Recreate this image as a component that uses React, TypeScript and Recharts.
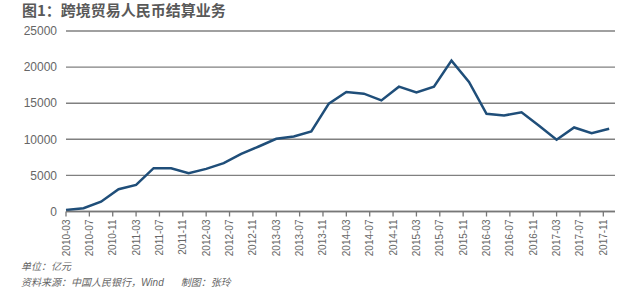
import { LineChart, Line, XAxis, YAxis, CartesianGrid } from 'recharts';

// quarterly data, 亿元
const periods = [
  '2010-03', '2010-06', '2010-09', '2010-12',
  '2011-03', '2011-06', '2011-09', '2011-12',
  '2012-03', '2012-06', '2012-09', '2012-12',
  '2013-03', '2013-06', '2013-09', '2013-12',
  '2014-03', '2014-06', '2014-09', '2014-12',
  '2015-03', '2015-06', '2015-09', '2015-12',
  '2016-03', '2016-06', '2016-09', '2016-12',
  '2017-03', '2017-06', '2017-09', '2017-12',
];
const settlement = [
  200, 450, 1360, 3080,
  3680, 6000, 6000, 5300,
  5900, 6690, 7990, 9000,
  10070, 10400, 11080, 14930,
  16550, 16320, 15390, 17290,
  16500, 17290, 20900, 17940,
  13540, 13310, 13730, 11880,
  9930, 11640, 10860, 11460,
];
const xTickLabels = [
  '2010-03', '2010-07', '2010-11', '2011-03', '2011-07', '2011-11',
  '2012-03', '2012-07', '2012-11', '2013-03', '2013-07', '2013-11',
  '2014-03', '2014-07', '2014-11', '2015-03', '2015-07', '2015-11',
  '2016-03', '2016-07', '2016-11', '2017-03', '2017-07', '2017-11',
];
const yTicks = [0, 5000, 10000, 15000, 20000, 25000];

// months since 2010-03
const monthIndex = (s: string) => {
  const [y, m] = s.split('-').map(Number);
  return (y - 2010) * 12 + (m - 3);
};

const data = periods.map((p, i) => ({ t: monthIndex(p), value: settlement[i] }));
const xTicks = xTickLabels.map(monthIndex);
const labelOf = new Map(xTickLabels.map((l) => [monthIndex(l), l]));

const font = '"Liberation Sans", Arial, sans-serif';
const cjk = '"Noto Sans CJK SC", sans-serif';

const XTick = (props: any) => {
  const { x, y, payload } = props;
  return (
    <text
      transform={`translate(${x + 3.5},${y}) rotate(-90)`}
      textAnchor="end"
      fontSize={10}
      fontFamily={font}
      fill="#666"
    >
      {labelOf.get(payload.value)}
    </text>
  );
};

export default function App() {
  return (
    <div style={{ position: 'absolute', left: 0, top: 0, width: 640, height: 288, background: '#fff' }}>
      <div
        style={{
          position: 'absolute', left: 22, top: 0, fontSize: 15, fontWeight: 'bold',
          fontFamily: cjk, color: '#595959', lineHeight: '20px',
        }}
      >
        图1：跨境贸易人民币结算业务
      </div>
      <LineChart width={640} height={288} data={data} margin={{ top: 31, right: 25, bottom: 0, left: 0 }}>
        <CartesianGrid vertical={false} stroke="#808080" strokeWidth={1.4} />
        <XAxis
          dataKey="t"
          type="number"
          domain={[0, 94]}
          ticks={xTicks}
          interval={0}
          height={76.5}
          tick={<XTick />}
          tickSize={5}
          tickMargin={3}
          stroke="#777"
          strokeWidth={1.3}
        />
        <YAxis
          domain={[0, 25000]}
          ticks={yTicks}
          width={66}
          axisLine={false}
          tickLine={false}
          tickSize={0}
          tickMargin={9}
          tick={{ fontSize: 12, fill: '#666', fontFamily: font }}
        />
        <Line
          type="linear"
          dataKey="value"
          stroke="#1f4e79"
          strokeWidth={2.5}
          dot={false}
          isAnimationActive={false}
        />
      </LineChart>
      <div
        style={{
          position: 'absolute', left: 21, top: 259, fontSize: 10, fontStyle: 'italic',
          fontFamily: cjk, color: '#666', lineHeight: '14px',
        }}
      >
        <div>单位：亿元</div>
        <div style={{ marginTop: 2 }}>
          资料来源：中国人民银行，<span style={{ fontFamily: font }}>Wind</span>
          <span style={{ marginLeft: 17 }}>制图：张玲</span>
        </div>
      </div>
    </div>
  );
}
